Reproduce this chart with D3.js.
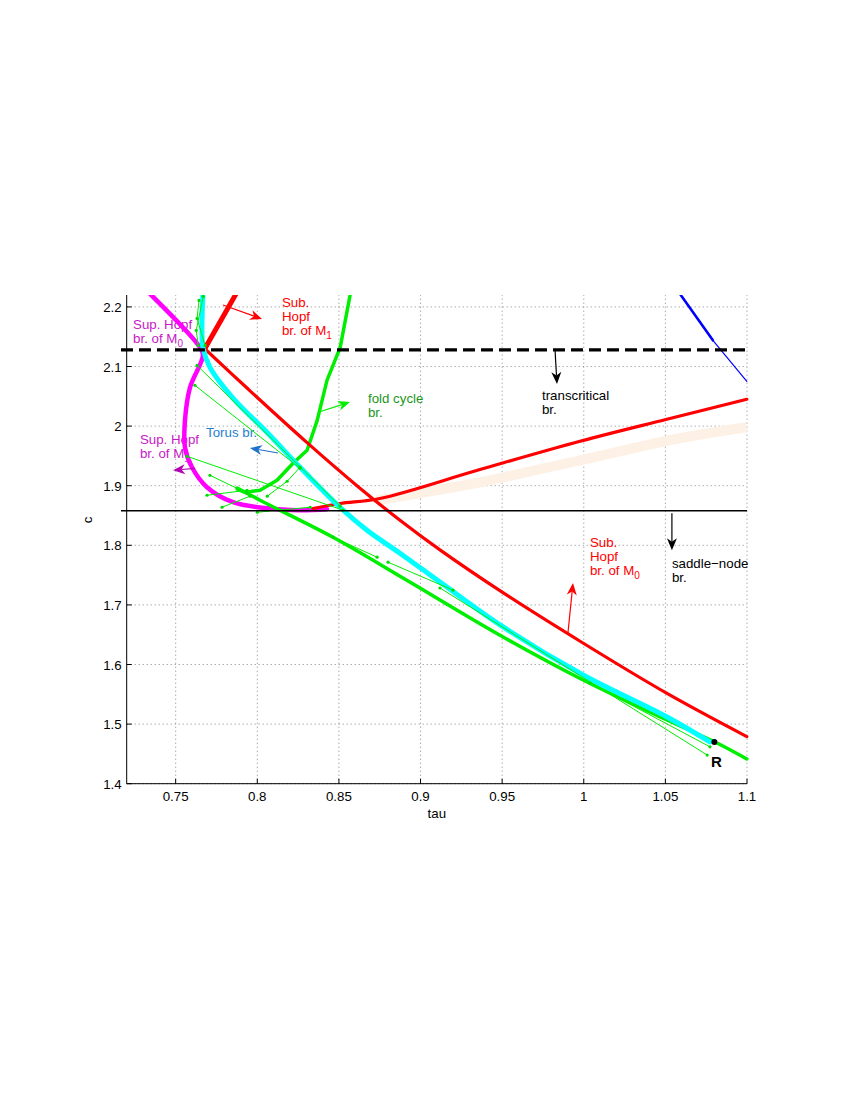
<!DOCTYPE html>
<html><head><meta charset="utf-8">
<script src="https://cdn.jsdelivr.net/npm/d3@7"></script>
<style>
body{margin:0;background:#fff}
svg{display:block}
text{font-family:"Liberation Sans",Arial,Helvetica,sans-serif}
</style>
</head><body>
<svg id="chart" width="850" height="1100"></svg>
<script>
// ---------- data (tau, c) ----------
const xTicks = [0.75, 0.8, 0.85, 0.9, 0.95, 1, 1.05, 1.1];
const xTickLabels = ["0.75", "0.8", "0.85", "0.9", "0.95", "1", "1.05", "1.1"];
const yTicks = [1.4, 1.5, 1.6, 1.7, 1.8, 1.9, 2, 2.1, 2.2];
const yTickLabels = ["1.4", "1.5", "1.6", "1.7", "1.8", "1.9", "2", "2.1", "2.2"];

const transcriticalC = 2.128;
const saddleNodeC = 1.858;

const peachBand = [[0.8733,1.8756],[0.9364,1.9058],[0.9977,1.9427],[1.0589,1.9796],[1.0999,1.998]];
const hopfM1Top = [[0.787,2.222],[0.768,2.1305]];
const hopfM0 = [[0.768,2.1294],[0.7937,2.0639],[0.8305,1.9723],[0.8629,1.8958],[0.8874,1.8421],
  [0.9119,1.7924],[0.9505,1.7206],[0.9995,1.6361],[1.051,1.5515],[1.0999,1.479]];
const hopfM1Right = [[0.8341,1.8617],[0.8507,1.8701],[0.8751,1.8785],[0.9364,1.9271],[0.9977,1.9746],[1.0509,2.0115],[1.0999,2.045]];
const supHopf = [[0.7343,2.222],[0.7649,2.1321],[0.7667,2.1187],[0.7588,2.0651],[0.7557,2.0097],[0.7557,1.9645],
  [0.76,1.9309],[0.7692,1.8974],[0.7851,1.8723],[0.8059,1.8622],[0.8262,1.8589],[0.8427,1.8605]];
const torus = [[0.7667,2.222],[0.7661,2.1606],[0.7667,2.1321],[0.771,2.0986],[0.7851,2.0471],[0.8059,1.9896],
  [0.8262,1.9309],[0.8506,1.8639],[0.8672,1.8253],[0.8874,1.7868],[0.9119,1.7384],[0.9506,1.663],
  [0.9996,1.5824],[1.051,1.5119],[1.0773,1.47]];
const foldCycle = [[0.857,2.222],[0.8508,2.1321],[0.8427,2.0768],[0.8367,2.0097],[0.8305,1.9594],[0.8219,1.9377],
  [0.8121,1.9091],[0.8017,1.8924],[0.7925,1.889],[0.7877,1.8941]];
const lowerGreen = [[0.7877,1.8962],[0.8017,1.8757],[0.8464,1.8136],[0.8874,1.7482],[0.9119,1.7082],[0.9506,1.6461],
  [0.9996,1.574],[1.051,1.5069],[1.0816,1.4683],[1.0999,1.4415]];
const thinGreen = [
  [[0.7669,2.2176],[0.7626,2.1606],[0.7638,2.1354]],
  [[0.7643,2.2109],[0.7631,2.1807],[0.768,2.1354]],
  [[0.7631,2.1019],[0.8507,1.8656]],
  [[0.7618,2.0684],[0.8262,1.9292]],
  [[0.7569,1.9494],[0.8526,1.8589]],
  [[0.771,1.9175],[0.7937,1.8874]],
  [[0.7692,1.884],[0.7937,1.8924]],
  [[0.7784,1.8639],[0.7956,1.8824]],
  [[0.8,1.8555],[0.8324,1.8639]],
  [[0.8061,1.8824],[0.8183,1.9075],[0.8262,1.9309]],
  [[0.8464,1.8136],[0.8734,1.7801]],
  [[0.8801,1.7717],[0.9199,1.7248]],
  [[0.9119,1.7284],[1.0756,1.4481]],
  [[1.0038,1.569],[1.0773,1.4619]]
];
const blueThick = [[1.0589,2.222],[1.0791,2.1439]];
const blueThin = [[1.0791,2.1439],[1.0999,2.0752]];
const pointR = [1.08, 1.47];

// annotations: arrows [tail, tip] and text labels
const arrowPts = [
  [[0.779,2.2032],[0.8029,2.1797]],
  [[0.9903,1.6529],[0.9934,1.7367]],
  [[0.9824,2.1277],[0.9836,2.0706]],
  [[1.054,1.8539],[1.054,1.7919]],
  [[0.8378,2.0237],[0.8568,2.0404]],
  [[0.8127,1.9549],[0.7955,1.9633]],
  [[0.7618,1.9292],[0.7484,1.9259]]
];
const labelLines = [
  ["Sub.","Hopf","br. of M_1"],
  ["Sup. Hopf","br. of M_0"],
  ["Sup. Hopf","br. of M_1"],
  ["Torus br."],
  ["fold cycle","br."],
  ["transcritical","br."],
  ["Sub.","Hopf","br. of M_0"],
  ["saddle\u2212node","br."]
];
const labelAt = [[0.8151,2.1998],[0.7239,2.163],[0.7281,1.970],[0.7686,1.9817],[0.8678,2.0388],[0.9744,2.0438],[1.0038,1.7971],[1.054,1.7619]];

// ---------- styles ----------
const arrowColors = ["#ff0000","#ff0000","#000000","#000000","#00ee00","#1f72c8","#b400b4"];
const labelColors = ["#ff0000","#c818c8","#c818c8","#1f7fd0","#1a961a","#000000","#ff0000","#000000"];

const svg = d3.select("#chart");
const x = d3.scaleLinear().domain([0.72, 1.1]).range([126.7, 747]);
const y = d3.scaleLinear().domain([1.4, 2.22]).range([783.7, 295]);
const smooth = d3.line().x(d => x(d[0])).y(d => y(d[1])).curve(d3.curveCatmullRom.alpha(0.5));
const straight = d3.line().x(d => x(d[0])).y(d => y(d[1]));

svg.append("defs").append("clipPath").attr("id","clip")
  .append("rect").attr("x",x(0.72)).attr("y",y(2.22)).attr("width",x(1.1)-x(0.72)+2).attr("height",y(1.4)-y(2.22));

// grid
const grid = svg.append("g");
grid.selectAll(".gx").data(xTicks).join("line")
  .attr("x1",d=>x(d)).attr("x2",d=>x(d)).attr("y1",y(1.4)).attr("y2",y(2.22))
  .attr("stroke","#6a6a6a").attr("stroke-width",0.8).attr("stroke-dasharray","1,3");
grid.selectAll(".gy").data(yTicks).join("line")
  .attr("x1",x(0.72)).attr("x2",x(1.1)).attr("y1",d=>y(d)).attr("y2",d=>y(d))
  .attr("stroke","#6a6a6a").attr("stroke-width",0.8).attr("stroke-dasharray","1,3");

// labels (drawn beneath curves)
const lab = svg.append("g").attr("font-size","13.3px");
labelLines.forEach((lines,i)=>{
  lines.forEach((t,j)=>{
    const parts = t.split("_");
    const te = lab.append("text").attr("x",x(labelAt[i][0])).attr("y",y(labelAt[i][1])+j*14)
      .attr("fill",labelColors[i]);
    te.append("tspan").text(parts[0]);
    if(parts.length>1) te.append("tspan").attr("dy",4).attr("font-size","10px").text(parts[1]);
  });
});

// R label with white background
const rg = svg.append("g");
rg.append("rect").attr("x",x(1.0779)-3).attr("y",y(1.428)-14).attr("width",17).attr("height",18).attr("fill","#fff");
rg.append("text").attr("x",x(1.0779)).attr("y",y(1.428)).attr("font-size","15px").attr("font-weight","bold").text("R");

const plot = svg.append("g").attr("clip-path","url(#clip)");

plot.append("path").datum(peachBand).attr("d",smooth).attr("fill","none")
  .attr("stroke","#fdf1e6").attr("stroke-width",10);

// horizontal branches
svg.append("line").attr("x1",x(0.7165)).attr("x2",x(1.1)).attr("y1",y(saddleNodeC)).attr("y2",y(saddleNodeC))
  .attr("stroke","#000").attr("stroke-width",1.3);
svg.append("line").attr("x1",x(0.7165)).attr("x2",x(1.1)).attr("y1",y(transcriticalC)).attr("y2",y(transcriticalC))
  .attr("stroke","#000").attr("stroke-width",3.2).attr("stroke-dasharray","12,6");

function curve(data,color,w,gen){
  plot.append("path").datum(data).attr("d",gen||smooth).attr("fill","none")
    .attr("stroke",color).attr("stroke-width",w).attr("stroke-linejoin","round").attr("stroke-linecap","round");
}
curve(supHopf,"#ff00ff",4.5);
curve(foldCycle,"#00ee00",3.5,straight);
curve(lowerGreen,"#00ee00",3.5);
curve(hopfM1Top,"#ff0000",5,straight);
curve(hopfM0,"#ff0000",3.2);
curve(hopfM1Right,"#ff0000",3.2);
curve(torus,"#00ffff",5);
thinGreen.forEach(seg=>{
  curve(seg,"#00ee00",1,straight);
  plot.selectAll(null).data(seg).join("circle").attr("cx",d=>x(d[0])).attr("cy",d=>y(d[1])).attr("r",1.6).attr("fill","#00dd00");
});
curve(blueThick,"#0000ff",2.6,straight);
curve(blueThin,"#0000ff",1.2,straight);

svg.append("circle").attr("cx",x(pointR[0])).attr("cy",y(pointR[1])).attr("r",3).attr("fill","#000");

// arrows
arrowPts.forEach((a,i)=>{
  const x0=x(a[0][0]), y0=y(a[0][1]), x1=x(a[1][0]), y1=y(a[1][1]);
  const dx=x1-x0, dy=y1-y0, L=Math.hypot(dx,dy), ux=dx/L, uy=dy/L, px=-uy, py=ux;
  const hl=12, hw=5, notch=3.5;
  const bx=x1-ux*hl, by=y1-uy*hl;
  const nx=x1-ux*(hl-notch), ny=y1-uy*(hl-notch);
  svg.append("line").attr("x1",x0).attr("y1",y0).attr("x2",nx).attr("y2",ny)
    .attr("stroke",arrowColors[i]).attr("stroke-width",1.2);
  svg.append("path").attr("d",`M${x1},${y1}L${bx+px*hw},${by+py*hw}L${nx},${ny}L${bx-px*hw},${by-py*hw}Z`)
    .attr("fill",arrowColors[i]);
});

// axes
const axG = svg.append("g").attr("font-size","13.3px");
axG.append("line").attr("x1",x(0.72)).attr("x2",x(0.72)).attr("y1",y(1.4)).attr("y2",y(2.22)).attr("stroke","#000");
axG.append("line").attr("x1",x(0.72)).attr("x2",x(1.1)).attr("y1",y(1.4)).attr("y2",y(1.4)).attr("stroke","#000");
axG.selectAll(".tx").data(xTicks).join("line").attr("x1",d=>x(d)).attr("x2",d=>x(d))
  .attr("y1",y(1.4)).attr("y2",y(1.4)-5).attr("stroke","#000");
axG.selectAll(".ty").data(yTicks).join("line").attr("x1",x(0.72)).attr("x2",x(0.72)+5)
  .attr("y1",d=>y(d)).attr("y2",d=>y(d)).attr("stroke","#000");
axG.selectAll(".lx").data(xTicks).join("text").attr("x",d=>x(d)).attr("y",y(1.4)+17)
  .attr("text-anchor","middle").text((d,i)=>xTickLabels[i]);
axG.selectAll(".ly").data(yTicks).join("text").attr("x",x(0.72)-5).attr("y",d=>y(d)+5)
  .attr("text-anchor","end").text((d,i)=>yTickLabels[i]);
axG.append("text").attr("x",(x(0.72)+x(1.1))/2).attr("y",y(1.4)+34).attr("text-anchor","middle").text("tau");
axG.append("text").attr("transform",`translate(92,520) rotate(-90)`).attr("text-anchor","middle").text("c");
</script>
</body></html>
